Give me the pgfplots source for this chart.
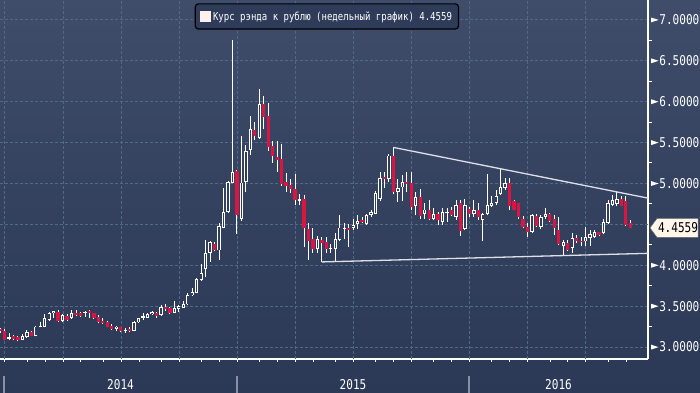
\documentclass[border=0pt]{standalone}
\usepackage{pgfplots}
\pgfplotsset{compat=1.18}
\usepackage{pgfplotstable}
\usepackage{fontspec}
\newfontfamily\bbfont[FakeStretch=0.82]{DejaVu Sans Mono}
\newcommand\tickfont{\bbfont\fontsize{13.5bp}{15bp}\selectfont}
\newcommand\legfont{\bbfont\fontsize{11bp}{13bp}\selectfont}
\definecolor{bgtop}{HTML}{3F4D6B}
\definecolor{bgmid}{HTML}{34425F}
\definecolor{bgbot}{HTML}{2B3956}
\definecolor{gridc}{HTML}{4E6A88}
\definecolor{candred}{HTML}{DC1442}
\definecolor{hollow}{HTML}{313E5B}
\definecolor{legbg}{HTML}{2F3C59}
\definecolor{legsq}{HTML}{FFF0EE}
\definecolor{calloutbg}{HTML}{FFF6EC}
\definecolor{trend}{HTML}{DDE0E8}
\definecolor{sepc}{HTML}{8790A6}

\pgfplotstableread{
k o h l c
-1 3.22 3.23 3.17 3.19
0 3.20 3.22 3.08 3.09
1 3.10 3.17 3.08 3.12
2 3.13 3.15 3.08 3.10
3 3.12 3.13 3.07 3.09
4 3.09 3.16 3.08 3.13
5 3.12 3.21 3.11 3.18
6 3.18 3.20 3.13 3.14
7 3.13 3.26 3.13 3.25
8 3.24 3.30 3.24 3.26
9 3.25 3.40 3.24 3.35
10 3.33 3.43 3.32 3.41
11 3.41 3.44 3.35 3.44
12 3.43 3.45 3.31 3.32
13 3.32 3.40 3.30 3.39
14 3.38 3.40 3.32 3.33
15 3.35 3.45 3.34 3.41
16 3.41 3.45 3.38 3.39
17 3.41 3.43 3.37 3.38
18 3.41 3.44 3.37 3.43
19 3.44 3.45 3.35 3.41
20 3.41 3.42 3.34 3.35
21 3.37 3.39 3.29 3.31
22 3.32 3.35 3.28 3.29
23 3.31 3.32 3.24 3.25
24 3.26 3.28 3.21 3.22
25 3.22 3.26 3.20 3.25
26 3.24 3.25 3.18 3.19
27 3.19 3.23 3.17 3.21
28 3.22 3.24 3.18 3.20
29 3.20 3.32 3.19 3.31
30 3.30 3.36 3.29 3.35
31 3.36 3.41 3.33 3.38
32 3.36 3.41 3.35 3.40
33 3.40 3.44 3.39 3.43
34 3.41 3.43 3.36 3.38
35 3.39 3.51 3.38 3.49
36 3.49 3.53 3.44 3.46
37 3.48 3.49 3.40 3.42
38 3.42 3.56 3.41 3.48
39 3.46 3.51 3.43 3.50
40 3.48 3.56 3.48 3.53
41 3.52 3.66 3.51 3.63
42 3.63 3.72 3.62 3.67
43 3.66 3.84 3.66 3.83
44 3.82 4.01 3.81 3.90
45 3.95 4.31 3.85 4.15
46 4.15 4.30 4.04 4.28
47 4.26 4.28 4.17 4.19
48 4.18 4.51 4.06 4.48
49 4.46 4.94 4.45 4.65
50 4.65 5.03 4.64 5.02
51 5.00 6.75 5.00 5.14
52 5.15 5.16 4.38 4.61
53 4.57 5.58 4.54 5.01
54 5.02 5.47 4.90 5.39
55 5.41 5.82 5.35 5.66
56 5.65 5.75 5.53 5.58
57 5.56 6.16 5.54 5.97
58 5.97 6.07 5.67 5.81
59 5.82 5.98 5.40 5.44
60 5.46 5.52 5.25 5.34
61 5.32 5.52 5.14 5.29
62 5.30 5.48 4.97 4.99
63 5.02 5.13 4.89 4.97
64 4.98 5.05 4.88 4.93
65 4.93 5.11 4.73 4.80
66 4.79 4.87 4.73 4.81
67 4.81 4.86 4.22 4.46
68 4.44 4.51 4.06 4.30
69 4.32 4.46 4.15 4.20
70 4.20 4.36 4.15 4.32
71 4.31 4.35 4.04 4.27
72 4.28 4.34 4.15 4.20
73 4.20 4.26 4.15 4.21
74 4.20 4.39 4.05 4.32
75 4.31 4.61 4.29 4.46
76 4.45 4.52 4.32 4.46
77 4.46 4.50 4.22 4.43
78 4.45 4.56 4.43 4.49
79 4.50 4.61 4.44 4.54
80 4.55 4.59 4.51 4.53
81 4.50 4.63 4.49 4.61
82 4.61 4.67 4.59 4.65
83 4.63 4.91 4.62 4.88
84 4.81 5.14 4.78 5.07
85 5.08 5.14 4.94 5.05
86 5.05 5.36 5.02 5.34
87 5.34 5.44 4.87 4.90
88 4.89 5.05 4.77 4.94
89 4.95 5.10 4.78 5.02
90 5.02 5.14 4.89 4.99
91 5.00 5.14 4.67 4.71
92 4.72 4.90 4.61 4.83
93 4.83 4.93 4.57 4.60
94 4.63 4.76 4.57 4.68
95 4.68 4.80 4.55 4.57
96 4.57 4.70 4.55 4.63
97 4.63 4.65 4.49 4.55
98 4.53 4.70 4.49 4.65
99 4.64 4.70 4.53 4.65
100 4.67 4.71 4.60 4.61
101 4.59 4.80 4.55 4.74
102 4.76 4.80 4.36 4.42
103 4.44 4.81 4.43 4.74
104 4.69 4.71 4.59 4.62
105 4.63 4.80 4.59 4.67
106 4.68 4.76 4.55 4.59
107 4.55 4.64 4.29 4.62
108 4.63 5.11 4.61 4.74
109 4.72 4.84 4.71 4.76
110 4.76 4.92 4.74 4.84
111 4.87 5.18 4.86 4.95
112 4.94 5.06 4.92 5.00
113 5.00 5.06 4.67 4.72
114 4.78 4.80 4.67 4.68
115 4.76 4.76 4.57 4.59
116 4.56 4.60 4.45 4.47
117 4.47 4.51 4.35 4.41
118 4.41 4.63 4.39 4.61
119 4.60 4.63 4.47 4.48
120 4.47 4.61 4.44 4.59
121 4.59 4.70 4.57 4.63
122 4.63 4.64 4.53 4.54
123 4.57 4.61 4.37 4.45
124 4.43 4.59 4.25 4.26
125 4.23 4.31 4.11 4.28
126 4.27 4.31 4.17 4.19
127 4.21 4.39 4.15 4.33
128 4.33 4.37 4.27 4.30
129 4.30 4.35 4.23 4.28
130 4.29 4.47 4.23 4.34
131 4.33 4.43 4.23 4.38
132 4.35 4.43 4.33 4.40
133 4.40 4.41 4.36 4.37
134 4.39 4.57 4.38 4.53
135 4.52 4.80 4.50 4.76
136 4.74 4.86 4.72 4.80
137 4.75 4.90 4.72 4.81
138 4.81 4.85 4.72 4.72
139 4.78 4.84 4.48 4.49
140 4.52 4.55 4.45 4.4559
}\rates

\begin{document}
\begin{tikzpicture}
\path[use as bounding box] (0,0) rectangle (700bp,393bp);
\shade[top color=bgtop, bottom color=bgbot, middle color=bgmid] (0,0) rectangle (700bp,393bp);
\begin{axis}[
  at={(0,34bp)}, anchor=south west,
  scale only axis, width=648bp, height=359bp,
  xmin=-1.007, xmax=143.96, ymin=2.8533, ymax=7.2421,
  axis x line*=bottom, axis y line*=right,
  axis line style={white, line width=1.1bp},
  xtick={-0.11,5.10,9.13,13.15,16.96,22.10,26.13,30.16,35.08,39.11,44.03,48.05,52.08,57.00,61.03,65.06,69.08,74.00,78.03,82.95,86.98,91.01,95.93,99.96,103.98,108.90,112.93,116.96,122.10,125.91,129.93,135.08,139.11},
  xticklabels={},
  extra x ticks={-0.11,13.15,26.13,39.11,52.08,65.06,78.03,91.01,103.98,116.96,129.93},
  extra x tick labels={},
  extra x tick style={grid=major, tick style={draw=none}},
  ytick={3,3.5,4,5,5.5,6,6.5,7}, minor ytick={3.25,3.75,...,6.75},
  extra y ticks={4.5}, extra y tick labels={},
  extra y tick style={grid=major},
  ymajorgrids,
  grid style={gridc, dash pattern=on 2.5bp off 2.5bp, line width=0.8bp},
  major tick length=2.5bp, minor tick length=4bp,
  tick align=outside,
  tick style={white, line width=1bp},
  every major y tick/.style={draw=none},
  yticklabel={\tikz[baseline={(0,-4.8bp)}]\fill[white] (0,2.4bp) -- (7.4bp,0) -- (0,-2.4bp) -- cycle;\hspace{0.8bp}\pgfmathprintnumber[fixed,fixed zerofill,precision=4,assume math mode=true]{\tick}},
  yticklabel style={font=\tickfont, text=white, inner xsep=0pt, xshift=0.5bp},
  legend style={at={(0.3005,0.9908)}, anchor=north west, fill=legbg, draw=black, line width=1.2bp, rounded corners=3bp, text=white, font=\legfont, inner xsep=4.5bp, inner ysep=5.5bp},
  legend image code/.code={\fill[legsq, sharp corners] (0bp,-5bp) rectangle (10bp,5bp);},
]
% wicks
\addplot[forget plot, draw=none, no markers,
  error bars/.cd, y dir=plus, y explicit, error mark=none,
  error bar style={line width=0.9bp, draw=white}]
  table[x=k, y=l, y error expr=\thisrow{h}-\thisrow{l}] {\rates};
% rising bodies
\addplot[forget plot, draw=none, no markers,
  restrict expr to domain={\thisrow{c}-\thisrow{o}}{0:10},
  error bars/.cd, y dir=plus, y explicit, error mark=none,
  error bar style={line width=3.3bp, draw=white}]
  table[x=k, y=o, y error expr=\thisrow{c}-\thisrow{o}] {\rates};
\addplot[forget plot, draw=none, no markers,
  restrict expr to domain={\thisrow{c}-\thisrow{o}}{0:10},
  error bars/.cd, y dir=plus, y explicit, error mark=none,
  error bar style={line width=1.5bp, draw=hollow}]
  table[x=k, y expr={\thisrow{o}+0.011}, y error expr={max(\thisrow{c}-\thisrow{o}-0.022,0)}] {\rates};
% falling bodies
\addplot[forget plot, draw=none, no markers,
  restrict expr to domain={\thisrow{o}-\thisrow{c}}{0.00001:10},
  error bars/.cd, y dir=plus, y explicit, error mark=none,
  error bar style={line width=3.3bp, draw=candred}]
  table[x=k, y=c, y error expr=\thisrow{o}-\thisrow{c}] {\rates};
% trend lines
\addplot[forget plot, trend, line width=1.3bp] coordinates {(87,5.44) (143.96,4.82)};
\addplot[forget plot, trend, line width=1.3bp] coordinates {(71,4.04) (143.96,4.145)};
\addlegendimage{legend image code/.code={\fill[legsq, sharp corners] (0bp,-5bp) rectangle (10bp,5bp);}}
\addlegendentry{Курс рэнда к рублю (недельный график) 4.4559}
\coordinate (lastv) at (axis cs:143.96,4.4559);
\end{axis}
\path (lastv) ++(2bp,0) coordinate (tip);
\filldraw[fill=calloutbg, draw=black!60, line width=0.5bp] (tip) -- ++(7bp,9.5bp) -- ++(41bp,0) -- ++(0,-19bp) -- ++(-41bp,0) -- cycle;
\node[font=\tickfont, text=black, inner sep=0pt] at ([xshift=30bp]lastv) {4.4559};
\foreach \xx in {4,237,469} \draw[sepc, line width=1.3bp] (\xx bp,0) -- (\xx bp,17bp);
\node[font=\tickfont, text=white, inner sep=0pt] at (120.5bp,8bp) {2014};
\node[font=\tickfont, text=white, inner sep=0pt] at (353bp,8bp) {2015};
\node[font=\tickfont, text=white, inner sep=0pt] at (558.5bp,8bp) {2016};
\end{tikzpicture}
\end{document}
